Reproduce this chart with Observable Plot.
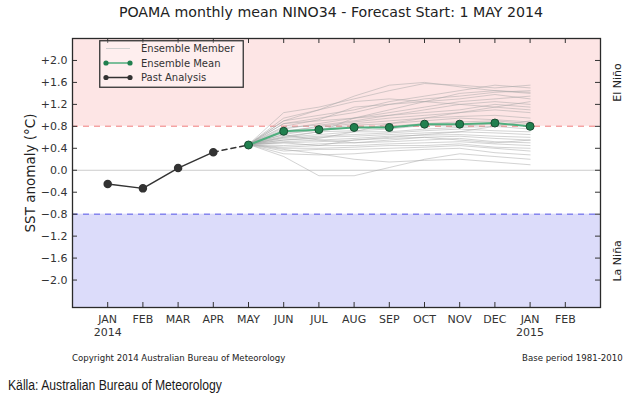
<!DOCTYPE html>
<html>
<head>
<meta charset="utf-8">
<script src="https://cdn.jsdelivr.net/npm/d3@7"></script>
<script src="https://cdn.jsdelivr.net/npm/@observablehq/plot@0.6"></script>
<style>
  html, body { margin: 0; padding: 0; background: #fff; }
  #wrap { position: relative; width: 626px; height: 399px; overflow: hidden; background: #fff; font-family: "DejaVu Sans", sans-serif; }
  #chart { position: absolute; left: 0; top: 0; }
  .abs { position: absolute; white-space: nowrap; }
  #title { left: 0; width: 662px; top: 4px; text-align: center; font-size: 14.2px; color: #222; }
  #copy { left: 72px; top: 353px; font-size: 8.6px; color: #222; }
  #base { left: 522px; top: 353px; font-size: 8.6px; color: #222; }
  #source { left: 8px; top: 377px; font-family: "Liberation Sans", Arial, sans-serif; font-size: 14px; color: #1a1a1a; transform: scaleX(0.87); transform-origin: left center; }
  #legend { left: 99px; top: 40px; }
</style>
</head>
<body>
<div id="wrap">
  <div id="chart"></div>
  <div id="title" class="abs">POAMA monthly mean NINO34 - Forecast Start: 1 MAY 2014</div>
  <div id="legend" class="abs"></div>
  <div id="copy" class="abs">Copyright 2014 Australian Bureau of Meteorology</div>
  <div id="base" class="abs">Base period 1981-2010</div>
  <div id="source" class="abs">Källa: Australian Bureau of Meteorology</div>
</div>
<script>
// ---------- data ----------
const monthLabels = ["JAN","FEB","MAR","APR","MAY","JUN","JUL","AUG","SEP","OCT","NOV","DEC","JAN","FEB"];
const yearLabels = {0: "2014", 12: "2015"};
const yTicks = [2.0, 1.6, 1.2, 0.8, 0.4, 0.0, -0.4, -0.8, -1.2, -1.6, -2.0];
const yDomain = [-2.5, 2.4];
const xDomain = [-1, 14];
const ninoThreshold = 0.8;
const ninaThreshold = -0.8;

const pastMonths = [0, 1, 2, 3];
const pastValues = [-0.25, -0.33, 0.04, 0.33];

const forecastMonths = [4, 5, 6, 7, 8, 9, 10, 11, 12];
const meanValues = [0.46, 0.71, 0.74, 0.78, 0.78, 0.84, 0.84, 0.86, 0.80];

const ensembleMembers = [
  [0.47, 1.05, 1.15, 1.30, 1.45, 1.58, 1.55, 1.50, 1.55],
  [0.47, 0.95, 1.10, 1.35, 1.55, 1.60, 1.52, 1.45, 1.40],
  [0.47, 0.90, 1.00, 1.10, 1.25, 1.35, 1.45, 1.55, 1.50],
  [0.47, 0.85, 0.95, 1.05, 1.20, 1.30, 1.35, 1.42, 1.45],
  [0.47, 0.80, 0.92, 1.15, 1.20, 1.25, 1.30, 1.38, 1.30],
  [0.47, 0.75, 0.85, 0.95, 1.05, 1.15, 1.25, 1.30, 1.35],
  [0.47, 0.85, 0.90, 0.95, 1.00, 1.10, 1.20, 1.25, 1.20],
  [0.47, 0.78, 0.82, 0.90, 1.00, 1.05, 1.10, 1.20, 1.15],
  [0.47, 0.70, 0.80, 0.88, 0.95, 1.00, 1.05, 1.10, 1.05],
  [0.47, 0.72, 0.78, 0.85, 0.90, 0.95, 0.98, 1.00, 0.95],
  [0.47, 0.65, 0.75, 0.82, 0.85, 0.90, 0.95, 0.92, 0.88],
  [0.47, 0.68, 0.72, 0.78, 0.80, 0.85, 0.88, 0.90, 0.85],
  [0.47, 0.62, 0.70, 0.72, 0.75, 0.82, 0.80, 0.85, 0.80],
  [0.47, 0.60, 0.65, 0.70, 0.70, 0.75, 0.78, 0.80, 0.75],
  [0.47, 0.58, 0.62, 0.65, 0.68, 0.72, 0.75, 0.72, 0.70],
  [0.47, 0.55, 0.60, 0.62, 0.65, 0.68, 0.70, 0.68, 0.65],
  [0.47, 0.52, 0.55, 0.58, 0.62, 0.64, 0.65, 0.62, 0.60],
  [0.47, 0.50, 0.52, 0.55, 0.58, 0.60, 0.62, 0.58, 0.55],
  [0.47, 0.45, 0.48, 0.50, 0.52, 0.55, 0.58, 0.52, 0.50],
  [0.47, 0.42, 0.45, 0.45, 0.48, 0.50, 0.52, 0.48, 0.45],
  [0.47, 0.40, 0.40, 0.42, 0.45, 0.45, 0.48, 0.42, 0.40],
  [0.47, 0.35, 0.38, 0.38, 0.40, 0.42, 0.45, 0.40, 0.35],
  [0.47, 0.30, 0.28, 0.30, 0.35, 0.38, 0.40, 0.32, 0.28],
  [0.47, 0.25, -0.10, -0.10, 0.05, 0.20, 0.30, 0.25, 0.20],
  [0.47, 0.38, 0.30, 0.20, 0.15, 0.18, 0.20, 0.15, 0.10],
  [0.47, 0.90, 1.10, 1.25, 1.30, 1.25, 1.20, 1.15, 1.10],
  [0.47, 0.60, 0.70, 0.95, 1.10, 1.25, 1.40, 1.45, 1.42],
  [0.47, 0.55, 0.58, 0.70, 0.85, 0.95, 1.05, 1.15, 1.25],
  [0.47, 0.50, 0.45, 0.55, 0.60, 0.65, 0.70, 0.80, 0.90],
  [0.47, 0.65, 0.55, 0.50, 0.55, 0.60, 0.55, 0.50, 0.55]
];

// ---------- derived tables ----------
const memberRows = ensembleMembers.flatMap((vals, m) => vals.map((v, i) => ({member: m, x: forecastMonths[i], y: v})));
const meanRows = meanValues.map((v, i) => ({x: forecastMonths[i], y: v}));
const pastRows = pastValues.map((v, i) => ({x: pastMonths[i], y: v}));
const connector = [pastRows[pastRows.length - 1], meanRows[0]];
const xTicks = d3.range(monthLabels.length);

const W = 626, H = 340, ML = 72, MR = 26, MT = 38, MB = 33;
const frameW = W - ML - MR, frameH = H - MT - MB, tickLen = 5;
const fmtY = d => d === 0 ? "0.0" : (d > 0 ? "+" : "\u2212") + Math.abs(d).toFixed(1);
const fmtX = i => monthLabels[i] + (yearLabels[i] ? "\n" + yearLabels[i] : "");

const ink = "#333";
const meanLine = "#4fae7e";
const meanDot = "#21804f";

const chart = Plot.plot({
  width: W, height: H,
  marginLeft: ML, marginRight: MR, marginTop: MT, marginBottom: MB,
  x: {domain: xDomain},
  y: {domain: yDomain},
  style: {fontFamily: "DejaVu Sans, sans-serif", fontSize: "11px", color: ink, background: "transparent", overflow: "visible"},
  marks: [
    Plot.rect([0], {y1: ninoThreshold, y2: yDomain[1], fill: "#fde5e5"}),
    Plot.rect([0], {y1: yDomain[0], y2: ninaThreshold, fill: "#dcdcfa"}),
    Plot.ruleY([0], {stroke: "#cccccc", strokeWidth: 1}),
    Plot.ruleY([ninoThreshold], {stroke: "#f5a3a3", strokeWidth: 1.5, strokeDasharray: "6,5"}),
    Plot.ruleY([ninaThreshold], {stroke: "#8686ee", strokeWidth: 1.5, strokeDasharray: "6,5"}),
    Plot.line(memberRows, {x: "x", y: "y", z: "member", stroke: "#a8a8a8", strokeOpacity: 0.5, strokeWidth: 1}),
    Plot.line(connector, {x: "x", y: "y", stroke: ink, strokeWidth: 1.5, strokeDasharray: "5,4"}),
    Plot.line(pastRows, {x: "x", y: "y", stroke: ink, strokeWidth: 1.5}),
    Plot.dot(pastRows, {x: "x", y: "y", r: 3.5, fill: ink, stroke: ink}),
    Plot.line(meanRows, {x: "x", y: "y", stroke: meanLine, strokeWidth: 2}),
    Plot.dot(meanRows, {x: "x", y: "y", r: 4, fill: meanDot, stroke: "#1a4d33", strokeWidth: 1}),
    // inward ticks on all four sides
    Plot.tickY(yTicks, {y: d => d, stroke: ink, insetRight: frameW - tickLen}),
    Plot.tickY(yTicks, {y: d => d, stroke: ink, insetLeft: frameW - tickLen}),
    Plot.tickX(xTicks, {x: d => d, stroke: ink, insetTop: frameH - tickLen}),
    Plot.tickX(xTicks, {x: d => d, stroke: ink, insetBottom: frameH - tickLen}),
    Plot.axisY(yTicks, {tickSize: 0, tickPadding: 5, tickFormat: fmtY, label: null, fill: "#333"}),
    Plot.axisX(xTicks, {tickSize: 0, tickPadding: 7, tickFormat: fmtX, label: null, lineHeight: 1.15, fill: "#333"}),
    Plot.frame({stroke: "#2a2a2a", strokeWidth: 1.3}),
    Plot.text(["SST anomaly (°C)"], {frameAnchor: "left", textAnchor: "middle", rotate: -90, dx: -42, fontSize: 13.5, fill: "#222"}),
    Plot.text(["El Niño"], {y: (ninoThreshold + yDomain[1]) / 2, frameAnchor: "right", textAnchor: "middle", rotate: -90, dx: 17, fontSize: 11, fill: "#222"}),
    Plot.text(["La Niña"], {y: (ninaThreshold + yDomain[0]) / 2, frameAnchor: "right", textAnchor: "middle", rotate: -90, dx: 17, fontSize: 11, fill: "#222"})
  ]
});
document.getElementById("chart").appendChild(chart);

// ---------- legend ----------
const lg = d3.select("#legend").append("svg").attr("width", 146).attr("height", 49);
lg.append("rect").attr("x", 0.75).attr("y", 0.75).attr("width", 143.5).attr("height", 46.5)
  .attr("fill", "rgba(255,255,255,0.35)").attr("stroke", "#333").attr("stroke-width", 1.3);
const entries = [
  {label: "Ensemble Member", stroke: "#cfcfcf", dot: null, w: 1},
  {label: "Ensemble Mean", stroke: meanLine, dot: meanDot, w: 1.5},
  {label: "Past Analysis", stroke: ink, dot: ink, w: 1.5}
];
entries.forEach((e, i) => {
  const y = 8.5 + i * 14.5;
  lg.append("line").attr("x1", 7).attr("x2", 31).attr("y1", y).attr("y2", y).attr("stroke", e.stroke).attr("stroke-width", e.w);
  if (e.dot) {
    [7, 31].forEach(x => lg.append("circle").attr("cx", x).attr("cy", y).attr("r", 2.6).attr("fill", e.dot));
  }
  lg.append("text").attr("x", 42).attr("y", y).attr("dy", "0.35em")
    .attr("font-family", "DejaVu Sans, sans-serif").attr("font-size", 10).attr("fill", "#333").text(e.label);
});
</script>
</body>
</html>
